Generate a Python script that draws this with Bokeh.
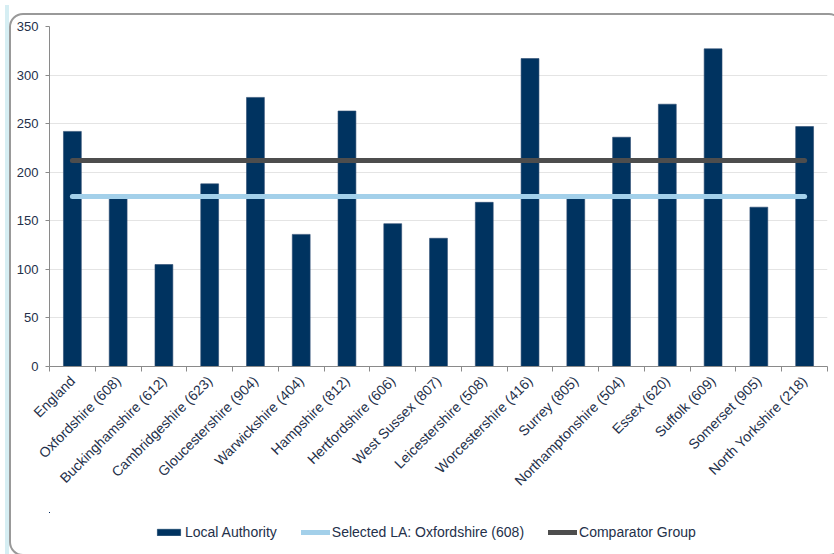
import math
from bokeh.plotting import figure
from bokeh.models import Range1d, FixedTicker, Legend, LegendItem, Div
from bokeh.layouts import column
from bokeh.embed import file_html
from bokeh.resources import INLINE

categories = ["England", "Oxfordshire (608)", "Buckinghamshire (612)", "Cambridgeshire (623)",
              "Gloucestershire (904)", "Warwickshire (404)", "Hampshire (812)", "Hertfordshire (606)",
              "West Sussex (807)", "Leicestershire (508)", "Worcestershire (416)", "Surrey (805)",
              "Northamptonshire (504)", "Essex (620)", "Suffolk (609)", "Somerset (905)",
              "North Yorkshire (218)"]
local_authority = [242, 175, 105, 188, 277, 136, 263, 147, 132, 169, 317, 174, 236, 270, 327, 164, 247]
selected_la = 175
comparator_group = 212
y_ticks = [0, 50, 100, 150, 200, 250, 300, 350]
series_names = ["Local Authority", "Selected LA: Oxfordshire (608)", "Comparator Group"]

n = len(categories)
xs = list(range(n))
bounds = [i - 0.5 for i in range(n + 1)]

TEXT = "#24304a"
FONT = "Liberation Sans"
NAVY = "#003360"
LIGHT = "#a3d0ea"
DARK = "#4d4d4d"


def draw_series(fig):
    b = fig.vbar(x=xs, top=local_authority, width=0.39, fill_color=NAVY, line_color="#2a4a70", line_width=0.6)
    s = fig.line(x=[xs[0], xs[-1]], y=[selected_la, selected_la], line_color=LIGHT, line_width=5, line_cap="round")
    c = fig.line(x=[xs[0], xs[-1]], y=[comparator_group, comparator_group], line_color=DARK, line_width=5, line_cap="round")
    return b, s, c


p = figure(width=834, height=512, output_backend="svg", toolbar_location=None,
           x_range=Range1d(-0.5, n - 0.5), y_range=Range1d(0, 350),
           min_border_left=49, min_border_right=7, min_border_top=26, min_border_bottom=146)
p.outline_line_color = None
p.background_fill_color = "white"
p.border_fill_color = "white"
draw_series(p)

p.xgrid.visible = False
p.ygrid.grid_line_color = "#e4e4e4"
p.ygrid.ticker = FixedTicker(ticks=y_ticks)

xa = p.xaxis[0]
xa.ticker = FixedTicker(ticks=xs, minor_ticks=bounds)
xa.major_label_overrides = {i: c for i, c in zip(xs, categories)}
xa.major_label_orientation = math.pi / 4
xa.major_tick_line_color = None
xa.minor_tick_line_color = "#8a8a8a"
xa.minor_tick_in = 0
xa.minor_tick_out = 5
xa.axis_line_color = "#8a8a8a"
xa.major_label_text_font = FONT
xa.major_label_text_font_size = "14px"
xa.major_label_text_color = TEXT
xa.major_label_standoff = 6

ya = p.yaxis[0]
ya.ticker = FixedTicker(ticks=y_ticks)
ya.minor_tick_line_color = None
ya.major_tick_in = 0
ya.major_tick_out = 4
ya.major_tick_line_color = "#8a8a8a"
ya.axis_line_color = "#8a8a8a"
ya.major_label_text_font = FONT
ya.major_label_text_font_size = "13px"
ya.major_label_text_color = TEXT
ya.major_label_standoff = 7

# legend strip: same series drawn outside the visible range, only the legend shows
q = figure(width=834, height=42, output_backend="svg", toolbar_location=None,
           x_range=Range1d(60, 61), y_range=Range1d(-600, -599),
           min_border_left=0, min_border_right=0, min_border_top=0, min_border_bottom=0)
q.outline_line_color = None
q.axis.visible = False
q.grid.visible = False
r_bar, r_sel, r_comp = draw_series(q)
r_bar.glyph.line_color = NAVY
legend = Legend(items=[LegendItem(label=series_names[0], renderers=[r_bar]),
                       LegendItem(label=series_names[1], renderers=[r_sel]),
                       LegendItem(label=series_names[2], renderers=[r_comp])],
                orientation="horizontal", location=(105, 14),
                glyph_width=29, glyph_height=8, label_standoff=2, spacing=24,
                label_text_font=FONT, label_text_font_size="14px", label_text_color=TEXT,
                border_line_color=None, background_fill_alpha=0, margin=0, padding=4)
q.add_layout(legend, "center")

frame = Div(text="", width=10, height=10,
            styles={"position": "absolute", "left": "4px", "top": "8px",
                    "width": "845px", "height": "543px",
                    "border": "2px solid #999999", "border-radius": "14px",
                    "pointer-events": "none", "box-sizing": "border-box"})
strip = Div(text="", width=4, height=554,
            styles={"position": "absolute", "left": "0px", "top": "0px",
                    "width": "4px", "height": "554px", "background-color": "#d6eef3",
                    "pointer-events": "none"})

layout = column(p, q, frame, strip, spacing=0)
open("out.html", "w").write(file_html(layout, INLINE))
